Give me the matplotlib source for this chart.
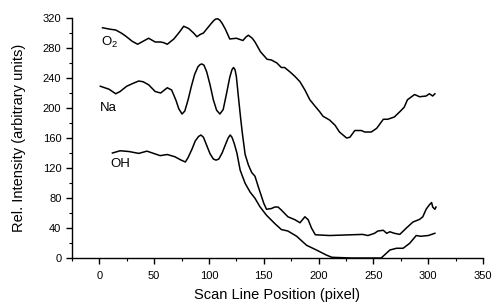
import matplotlib
matplotlib.use("Agg")
import matplotlib.pyplot as plt
from matplotlib.ticker import MultipleLocator

plt.rcParams['font.family'] = ['Liberation Sans', 'DejaVu Sans']
plt.rcParams['mathtext.fontset'] = 'custom'
plt.rcParams['mathtext.rm'] = 'Liberation Sans'
plt.rcParams['mathtext.it'] = 'Liberation Sans'

# ---- data ----
o2_x = [3, 10, 15, 20, 24, 30, 35, 40, 45, 51, 56, 59, 62, 68, 73, 77, 81.5, 86, 89, 92, 95,
        100, 104, 106, 108, 110, 112, 115, 119, 125, 131, 134, 136, 139.5, 142, 147, 153, 157,
        162, 166, 169, 174, 178.5, 183, 187.5, 192, 197, 201, 204, 210, 215, 219, 225.5,
        228.5, 233, 239, 242, 248, 253, 259, 263, 269, 274, 278, 281, 287.5, 292, 298, 301,
        304, 306]
o2_y = [307, 305, 304, 300, 296, 289, 285, 289, 293, 288, 288, 287, 285, 292, 301, 309, 306,
        300, 295, 298, 300, 309, 316, 318.5, 319, 317, 313, 305, 292, 293, 290, 295, 297, 293,
        288, 275, 265, 264, 260, 254, 254, 248, 242, 235, 224, 211, 202, 195, 189, 184, 177,
        168, 160, 161, 170, 170, 168, 168, 173, 185, 185, 188, 195, 201, 211, 218, 215, 216,
        219, 216, 219]

na_x = [1, 5, 9, 15, 19, 25, 31, 36, 40, 45, 51, 56, 62, 66, 70, 72.5, 75.5, 78, 81, 84, 87,
        90, 92, 93.6, 95.5, 98, 101, 104, 107, 110, 113, 116, 119, 121, 122.4, 123.8, 125,
        127, 129, 130.5, 133, 136, 139, 142, 145, 150, 152.5, 157, 160, 163, 166, 172, 178.5,
        183, 187.5, 190.5, 193.5, 197, 210, 230, 240, 245, 251, 254, 259, 262, 265, 269, 274,
        280, 286, 292, 295, 298, 301, 303, 304, 306, 307]
na_y = [229, 227, 225, 219, 222, 229, 233, 236, 235, 231, 222, 220, 227, 224, 210, 199, 192,
        196, 211, 229, 245, 255, 258, 258.7, 257, 248, 231, 211, 197, 192, 198, 219, 241,
        251, 254, 251, 242, 213, 185, 166, 138, 124, 114, 109, 95, 73, 65, 66, 68, 68, 64, 55,
        51, 47, 55, 51, 40, 31, 30, 31, 31.5, 30, 33, 36, 37, 33, 35, 33, 31.5, 40, 48, 51.5,
        55, 65, 71, 74, 68, 65, 68]

oh_x = [12, 19, 27, 36, 43.5, 49.5, 55.5, 62, 69, 74, 78.5, 81, 84.5, 87.5, 90.5, 92.7, 95,
        98, 101, 104, 106.5, 109, 112, 115, 117.5, 119.4, 121, 123, 125.5, 128.5, 133, 137.5,
        142, 146.5, 152.5, 160, 166, 172, 180, 189, 198, 207, 212, 230, 257, 260, 265, 271,
        277, 283, 289, 293, 300, 306]
oh_y = [140, 143, 142, 139.5, 142.5, 139.5, 136.5, 138, 135, 131, 128, 134, 145, 156, 162,
        164, 161, 150, 139, 132, 130.5, 132, 140, 151, 160, 164, 161, 153, 140, 117, 99.6, 88,
        79.6, 68.4, 57, 46, 38, 36, 29, 17, 10.7, 4, 1, 0, 0, 4, 10.7, 13, 13, 19.6, 30, 29,
        30, 33]

labels = [r'O$_{2}$', 'Na', 'OH']
label_pos = [(2, 287), (0.5, 200), (10.5, 125)]

fig = plt.figure(figsize=(4.92, 3.05), dpi=100)
ax = fig.add_axes([0.146, 0.154, 0.836, 0.787])

for xs, ys in [(o2_x, o2_y), (na_x, na_y), (oh_x, oh_y)]:
    ax.plot(xs, ys, color='black', lw=1.1)

for lab, (lx, ly) in zip(labels, label_pos):
    ax.text(lx, ly, lab, fontsize=9.5, ha='left', va='center')

ax.set_xlim(-25, 350)
ax.set_ylim(0, 320)
ax.xaxis.set_major_locator(MultipleLocator(50))
ax.xaxis.set_minor_locator(MultipleLocator(25))
ax.yaxis.set_major_locator(MultipleLocator(40))
ax.yaxis.set_minor_locator(MultipleLocator(20))
for s in ['top', 'right']:
    ax.spines[s].set_visible(False)
for s in ['left', 'bottom']:
    ax.spines[s].set_linewidth(1.0)
ax.tick_params(which='major', direction='out', length=4.5, width=1.0, labelsize=8)
ax.tick_params(axis='x', which='major', pad=5)
ax.tick_params(axis='y', which='major', pad=3)
ax.tick_params(which='minor', direction='out', length=2.5, width=0.8)
ax.set_xlabel('Scan Line Position (pixel)', fontsize=10.5, labelpad=5)
ax.set_ylabel('Rel. Intensity (arbitrary units)', fontsize=10.5, labelpad=12)

fig.savefig('out.png', dpi=100)
